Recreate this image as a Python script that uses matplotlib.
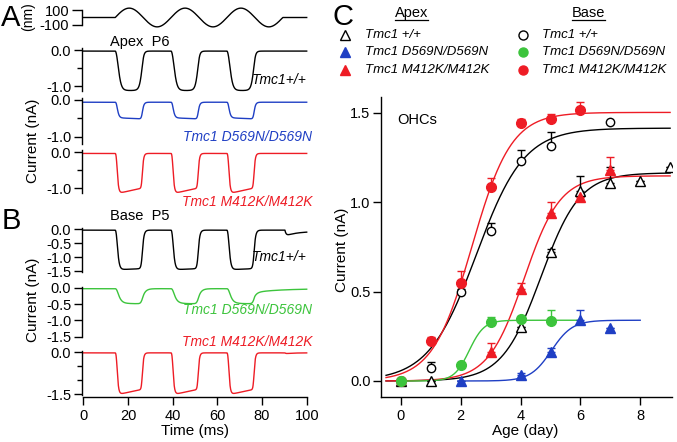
import numpy as np
import matplotlib
matplotlib.use("Agg")
import matplotlib.pyplot as plt

plt.rcParams['font.family'] = ['Liberation Sans', 'DejaVu Sans']
plt.rcParams['axes.unicode_minus'] = False
plt.rcParams['axes.linewidth'] = 1.0
plt.rcParams['xtick.major.width'] = 1.0
plt.rcParams['ytick.major.width'] = 1.0
plt.rcParams['ytick.minor.width'] = 1.0

W, H = 677, 442
fig = plt.figure(figsize=(W / 100, H / 100), dpi=100)

BLACK = '#000000'
BLUE = '#1f3fc4'
RED = '#ee1c25'
GREEN = '#3cc43c'

# ---------------- Panel C data (age in days, current in nA) ----------------
apex_wt_day = [0, 1, 4, 5, 6, 7, 8, 9]
apex_wt_cur = [0.0, 0.0, 0.30, 0.72, 1.065, 1.11, 1.12, 1.20]
apex_wt_err = [0.0, 0.0, 0.0, 0.02, 0.08, 0.09, 0.0, 0.0]

apex_m412k_day = [3, 4, 5, 6, 7]
apex_m412k_cur = [0.164, 0.513, 0.94, 1.03, 1.18]
apex_m412k_err = [0.05, 0.035, 0.06, 0.0, 0.075]

apex_d569n_day = [2, 4, 5, 6, 7]
apex_d569n_cur = [0.0, 0.034, 0.164, 0.341, 0.295]
apex_d569n_err = [0.0, 0.01, 0.02, 0.056, 0.0]

base_wt_day = [0, 1, 2, 3, 4, 5, 7]
base_wt_cur = [0.0, 0.075, 0.50, 0.84, 1.23, 1.317, 1.45]
base_wt_err = [0.0, 0.03, 0.015, 0.045, 0.06, 0.075, 0.0]

base_m412k_day = [0, 1, 2, 3, 4, 5, 6]
base_m412k_cur = [0.0, 0.224, 0.547, 1.087, 1.445, 1.465, 1.515]
base_m412k_err = [0.0, 0.02, 0.07, 0.047, 0.02, 0.03, 0.047]

base_d569n_day = [0, 2, 3, 4, 5]
base_d569n_cur = [0.0, 0.09, 0.332, 0.345, 0.337]
base_d569n_err = [0.0, 0.0, 0.028, 0.02, 0.06]

# sigmoidal fits: [plateau (nA), half-maximal age (day), slope (day)], range (day)
fit_apex_wt = [1.165, 4.68, 0.65]
fit_apex_m412k = [1.148, 4.12, 0.60]
fit_apex_d569n = [0.34, 5.03, 0.35]
fit_base_wt = [1.415, 2.52, 0.80]
fit_base_m412k = [1.503, 2.37, 0.66]
fit_base_d569n = [0.34, 2.28, 0.25]
range_apex_wt = (-0.5, 9.0)
range_apex_m412k = (-0.5, 9.0)
range_apex_d569n = (1.9, 8.0)
range_base_wt = (-0.5, 9.0)
range_base_m412k = (-0.5, 9.0)
range_base_d569n = (0.0, 6.0)

legend_labels = ['Tmc1 +/+', 'Tmc1 D569N/D569N', 'Tmc1 M412K/M412K']

# ---------------- Panels A/B: stimulus and trace parameters ----------------
stim_onset_ms = 14.3
stim_freq_hz = 40.0
stim_cycles = 3
stim_amp_nm = 125.0

# peak (nA), baseline (nA), half-activation (fraction of amp), slope, adaptation, filter tau (ms)
trace_apex_wt = dict(peak=-1.10, base=-0.03, xh=0.22, k=0.14, adapt=0.0, tau=0.5)
trace_apex_d569n = dict(peak=-0.42, base=-0.06, xh=0.15, k=0.06, adapt=-0.08, tau=0.5)
trace_apex_m412k = dict(peak=-1.12, base=-0.04, xh=0.15, k=0.05, adapt=0.15, tau=0.4)
trace_base_wt = dict(peak=-1.42, base=-0.03, xh=0.15, k=0.07, adapt=0.03, tau=0.5)
trace_base_d569n = dict(peak=-0.45, base=-0.03, xh=0.18, k=0.09, adapt=-0.03, tau=1.1)
trace_base_m412k = dict(peak=-1.50, base=-0.02, xh=0.15, k=0.05, adapt=0.14, tau=0.4)
# extra slow components: (start ms, amplitude nA, decay tau ms)
extra_base_wt = [(90.3, -0.15, 5.0), (90.3, -0.05, 200.0)]
extra_base_d569n = [(76.8, -0.10, 12.0)]
extra_base_m412k = [(90.3, -0.03, 3.0)]

t_ms = np.linspace(0.0, 100.0, 2001)
period = 1000.0 / stim_freq_hz
stim_end = stim_onset_ms + stim_cycles * period
in_stim = (t_ms >= stim_onset_ms) & (t_ms <= stim_end)
stim = np.where(in_stim, stim_amp_nm * np.sin(2 * np.pi * (t_ms - stim_onset_ms) / period), 0.0)


def lowpass(x, tau, dt):
    y = np.empty_like(x)
    a = dt / (tau + dt)
    acc = x[0]
    for i, v in enumerate(x):
        acc += a * (v - acc)
        y[i] = acc
    return y


def make_trace(p, extras=()):
    x = stim / stim_amp_nm
    po = 1.0 / (1.0 + np.exp(-(x - p['xh']) / p['k']))
    p0 = 1.0 / (1.0 + np.exp(p['xh'] / p['k']))
    pn = np.clip((po - p0) / (1 - p0), 0, None)
    phase = np.where(in_stim, ((t_ms - stim_onset_ms) % period) / (period / 2), 0.0)
    fac = 1 - p['adapt'] * np.clip(phase, 0, 1)
    drive = p['peak'] * pn * fac
    for (ts, amp, tau) in extras:
        drive = drive + np.where(t_ms >= ts, amp * np.exp(-(t_ms - ts) / tau), 0.0)
    return p['base'] + lowpass(drive, p['tau'], t_ms[1] - t_ms[0])


# ---------------- layout helpers ----------------
TL, TR, X0PX, PXMS = 81.7, 309.0, 83.3, 2.234
T_XLIM = ((TL - X0PX) / PXMS, (TR - X0PX) / PXMS)
TICKFS = 10.5


def trace_axes(zero_px, ppu, vtop, vbot):
    top = zero_px - vtop * ppu
    bot = zero_px - vbot * ppu
    ax = fig.add_axes([TL / W, 1 - bot / H, (TR - TL) / W, (bot - top) / H])
    ax.set_xlim(*T_XLIM)
    ax.set_ylim(vbot, vtop)
    ax.patch.set_alpha(0)
    for s in ['top', 'right', 'bottom']:
        ax.spines[s].set_visible(False)
    ax.set_xticks([])
    ax.tick_params(axis='y', which='major', length=6, pad=1.5, labelsize=TICKFS)
    ax.tick_params(axis='y', which='minor', length=3.5)
    return ax


def set_yt(ax, major, labels, minor=(), bounds=None):
    ax.set_yticks(major)
    ax.set_yticklabels(labels)
    ax.set_yticks(list(minor), minor=True)
    if bounds:
        ax.spines['left'].set_bounds(*bounds)


# stimulus
ax_s = trace_axes(17.5, 0.075, 135, -135)
ax_s.plot(t_ms, stim, color=BLACK, lw=1.0)
set_yt(ax_s, [100, -100], ['100', '-100'], bounds=(-100, 100))
ax_s.tick_params(axis='y', which='major', length=7.5)

traces = [
    (50.0, 36.0, 0.1, -1.2, (-1.13, 0.05), trace_apex_wt, (), BLACK, 'A3'),
    (100.0, 37.0, 0.1, -1.25, (-1.19, 0.05), trace_apex_d569n, (), BLUE, 'A3'),
    (152.0, 36.0, 0.1, -1.2, (-1.15, 0.05), trace_apex_m412k, (), RED, 'A3'),
    (229.3, 27.9, 0.1, -1.6, (-1.52, 0.04), trace_base_wt, extra_base_wt, BLACK, 'B4'),
    (287.7, 32.7, 0.1, -1.6, (-1.52, 0.03), trace_base_d569n, extra_base_d569n, GREEN, 'B4'),
    (352.3, 28.0, 0.1, -1.62, (-1.52, 0.06), trace_base_m412k, extra_base_m412k, RED, 'B2'),
]
for zero, ppu, vt, vb, bnd, prm, ext, col, kind in traces:
    ax = trace_axes(zero, ppu, vt, vb)
    ax.plot(t_ms, make_trace(prm, ext), color=col, lw=1.0)
    if kind == 'A3':
        set_yt(ax, [0.0, -1.0], ['0.0', '-1.0'], minor=[-0.5], bounds=bnd)
    elif kind == 'B4':
        set_yt(ax, [0.0, -0.5, -1.0, -1.5], ['0.0', '-0.5', '-1.0', '-1.5'], bounds=bnd)
    else:
        set_yt(ax, [0.0, -1.5], ['0.0', '-1.5'], minor=[-0.5, -1.0], bounds=bnd)

# time axis
ax_t = fig.add_axes([TL / W, 1 - 397 / H, (TR - TL) / W, 5 / H])
ax_t.patch.set_alpha(0)
ax_t.set_xlim(*T_XLIM)
for s in ['top', 'right', 'left']:
    ax_t.spines[s].set_visible(False)
ax_t.spines['bottom'].set_bounds(0, 100)
ax_t.set_yticks([])
ax_t.set_xticks([0, 20, 40, 60, 80, 100])
ax_t.tick_params(axis='x', length=6, pad=3, labelsize=TICKFS)

# ---------------- Panel C ----------------
CL, CR, CT, CB = 381, 672, 97, 397
cx0, cppx = 401.0, 29.9
cy0, cppy = 381.0, 178.7
axc = fig.add_axes([CL / W, 1 - CB / H, (CR - CL) / W, (CB - CT) / H])
axc.set_xlim((CL - cx0) / cppx, (CR - cx0) / cppx)
axc.set_ylim((cy0 - CB) / cppy, (cy0 - CT) / cppy)
axc.patch.set_alpha(0)
for s in ['top', 'right']:
    axc.spines[s].set_visible(False)
axc.set_xticks([0, 2, 4, 6, 8])
axc.set_yticks([0.0, 0.5, 1.0, 1.5])
axc.set_yticklabels(['0.0', '0.5', '1.0', '1.5'])
axc.tick_params(axis='both', length=6, labelsize=TICKFS)
axc.tick_params(axis='y', pad=1.5)
axc.tick_params(axis='x', pad=3)


def sig(x, p):
    return p[0] / (1.0 + np.exp(-(x - p[1]) / p[2]))


for p, rng, col in [(fit_apex_wt, range_apex_wt, BLACK), (fit_base_wt, range_base_wt, BLACK),
                    (fit_apex_m412k, range_apex_m412k, RED), (fit_base_m412k, range_base_m412k, RED),
                    (fit_apex_d569n, range_apex_d569n, BLUE), (fit_base_d569n, range_base_d569n, GREEN)]:
    xx = np.linspace(rng[0], rng[1], 400)
    axc.plot(xx, sig(xx, p), color=col, lw=1.0, zorder=2)


def points(day, cur, err, col, marker, face, ms):
    z = [0.0] * len(err)
    axc.errorbar(day, cur, yerr=[z, err], fmt='none', ecolor=col, elinewidth=1.0,
                 capsize=3.2, capthick=1.0, zorder=3)
    axc.plot(day, cur, linestyle='none', marker=marker, markersize=ms, markerfacecolor=face,
             markeredgecolor=col, markeredgewidth=1.0, zorder=4)


points(apex_wt_day, apex_wt_cur, apex_wt_err, BLACK, '^', 'white', 7.5)
points(base_wt_day, base_wt_cur, base_wt_err, BLACK, 'o', 'white', 6)
points(apex_d569n_day, apex_d569n_cur, apex_d569n_err, BLUE, '^', BLUE, 7.5)
points(apex_m412k_day, apex_m412k_cur, apex_m412k_err, RED, '^', RED, 7.5)
points(base_m412k_day, base_m412k_cur, base_m412k_err, RED, 'o', RED, 7)
points(base_d569n_day, base_d569n_cur, base_d569n_err, GREEN, 'o', GREEN, 7)

# ---------------- overlay for free text ----------------
ov = fig.add_axes([0, 0, 1, 1])
ov.set_xlim(0, W)
ov.set_ylim(H, 0)
ov.axis('off')
ov.patch.set_alpha(0)

for letter, x, y in [('A', 11, 18), ('B', 11, 221), ('C', 343, 17)]:
    ov.text(x, y, letter, fontsize=21, ha='center', va='center')

ov.text(28, 17, '(nm)', fontsize=10, rotation=90, ha='center', va='center')
ov.text(33, 141, 'Current (nA)', fontsize=11, rotation=90, ha='center', va='center')
ov.text(33, 300, 'Current (nA)', fontsize=11, rotation=90, ha='center', va='center')
ov.text(195, 431, 'Time (ms)', fontsize=11, ha='center', va='center')
ov.text(110, 42, 'Apex  P6', fontsize=10.5, ha='left', va='center')
ov.text(110, 216, 'Base  P5', fontsize=10.5, ha='left', va='center')

lab_style = dict(fontsize=10, style='italic', ha='right', va='center')
ov.text(307, 80, 'Tmc1+/+', color=BLACK, **lab_style)
ov.text(312, 137, legend_labels[1], color=BLUE, **lab_style)
ov.text(312, 202, legend_labels[2], color=RED, **lab_style)
ov.text(307, 257, 'Tmc1+/+', color=BLACK, **lab_style)
ov.text(312, 310, legend_labels[1], color=GREEN, **lab_style)
ov.text(312, 342, legend_labels[2], color=RED, **lab_style)

ov.text(342, 250, 'Current (nA)', fontsize=11, rotation=90, ha='center', va='center')
ov.text(525, 431, 'Age (day)', fontsize=11, ha='center', va='center')
ov.text(397, 120, 'OHCs', fontsize=10.5, ha='left', va='center')

# legend of panel C
ov.text(411.7, 13, 'Apex', fontsize=10.5, ha='center', va='center')
ov.plot([395, 428], [20, 20], color=BLACK, lw=0.9)
ov.text(588, 13, 'Base', fontsize=10.5, ha='center', va='center')
ov.plot([572, 605], [20, 20], color=BLACK, lw=0.9)
rows_y = [35, 52, 70]
apex_styles = [('^', 'white', BLACK), ('^', BLUE, BLUE), ('^', RED, RED)]
base_styles = [('o', 'white', BLACK), ('o', GREEN, GREEN), ('o', RED, RED)]
for y, lab, (m1, f1, e1), (m2, f2, e2) in zip(rows_y, legend_labels, apex_styles, base_styles):
    ov.plot([345], [y], marker=m1, markersize=7.5, markerfacecolor=f1, markeredgecolor=e1,
            markeredgewidth=1.0, linestyle='none')
    ov.plot([523], [y], marker=m2, markersize=6.5, markerfacecolor=f2, markeredgecolor=e2,
            markeredgewidth=1.0, linestyle='none')
    ov.text(365, y, lab, fontsize=9.5, style='italic', ha='left', va='center')
    ov.text(542, y, lab, fontsize=9.5, style='italic', ha='left', va='center')

fig.savefig('out.png', dpi=100)
